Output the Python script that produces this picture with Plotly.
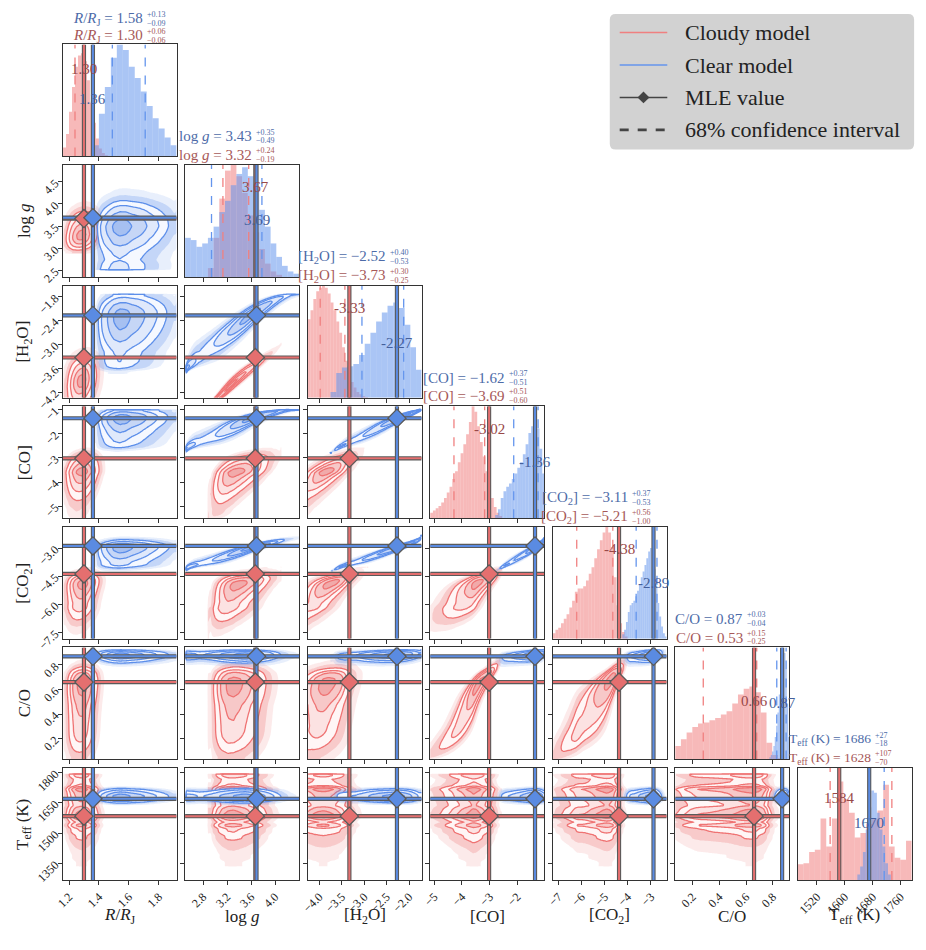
import math
import numpy as np
import plotly.graph_objects as go

# page is offset by the default 8px body margin, so the figure is drawn 8px smaller
PAGE_OFF = 8
WF, HF = 918, 934
FONT = "Liberation Serif"

# ---------------- values ----------------
PARAM_KEYS = ["R", "logg", "H2O", "CO", "CO2", "C/O", "Teff"]
DECIMALS = [2, 2, 2, 2, 2, 2, 0]

MLE_CLOUDY = [1.30, 3.67, -3.33, -3.02, -4.38, 0.66, 1584]
MLE_CLEAR = [1.36, 3.69, -2.27, -1.36, -2.89, 0.87, 1670]
MEDIAN_CLOUDY = [1.30, 3.32, -3.73, -3.69, -5.21, 0.53, 1628]
UPPER_CLOUDY = [0.06, 0.24, 0.30, 0.51, 0.56, 0.15, 107]
LOWER_CLOUDY = [0.06, 0.19, 0.25, 0.60, 1.00, 0.25, 70]
MEDIAN_CLEAR = [1.58, 3.43, -2.52, -1.62, -3.11, 0.87, 1686]
UPPER_CLEAR = [0.13, 0.35, 0.40, 0.37, 0.37, 0.03, 27]
LOWER_CLEAR = [0.09, 0.49, 0.53, 0.51, 0.53, 0.04, 18]

# histogram bins: [first edge, bin width] and relative bar heights
# (bins lying outside a histogram's x-range are the faint tails seen in the 2-D panels)
CLOUDY_R_BIN = [1.16, 0.02]
CLOUDY_R_HIST = [0.08, 0.2, 0.4, 0.62, 0.8, 0.9, 0.92, 0.85, 0.68, 0.48, 0.3, 0.16, 0.07, 0.03, 0.01]
CLEAR_R_BIN = [1.36, 0.04]
CLEAR_R_HIST = [0.1, 0.38, 0.62, 0.88, 1.0, 0.95, 0.8, 0.7, 0.58, 0.45, 0.34, 0.25, 0.17, 0.1]

CLOUDY_LOGG_BIN = [2.88, 0.095]
CLOUDY_LOGG_HIST = [0.08, 0.35, 0.7, 0.95, 1.0, 0.9, 0.75, 0.55, 0.4, 0.25, 0.12, 0.05, 0.02]
CLEAR_LOGG_BIN = [2.5, 0.095]
CLEAR_LOGG_HIST = [0.35, 0.33, 0.27, 0.3, 0.35, 0.45, 0.58, 0.68, 0.82, 0.92, 0.98, 0.9, 0.78, 0.6,
                   0.45, 0.3, 0.18, 0.1, 0.05, 0.03, 0.02, 0.012, 0.006]

CLOUDY_H2O_BIN = [-4.452, 0.064]
CLOUDY_H2O_HIST = [0.35, 0.5, 0.62, 0.7, 0.78, 0.88, 0.95, 0.98, 1.0, 0.98, 0.93, 0.85, 0.78, 0.68, 0.58,
                   0.45, 0.33, 0.22, 0.14, 0.09, 0.05, 0.03, 0.015, 0.005]
CLEAR_H2O_BIN = [-3.75, 0.127]
CLEAR_H2O_HIST = [0.05, 0.22, 0.27, 0.28, 0.3, 0.38, 0.48, 0.58, 0.68, 0.76, 0.82, 0.85, 0.8, 0.65, 0.45, 0.25]

CLOUDY_CO_BIN = [-5.55, 0.1]
CLOUDY_CO_HIST = [0.02, 0.03, 0.04, 0.045, 0.05, 0.07, 0.09, 0.11, 0.14, 0.18, 0.23, 0.28, 0.35, 0.42,
                  0.5, 0.58, 0.66, 0.75, 0.86, 1.0, 0.95, 0.82, 0.68, 0.55, 0.42, 0.3, 0.18, 0.1, 0.05, 0.02]
CLEAR_CO_BIN = [-2.8, 0.1]
CLEAR_CO_HIST = [0.03, 0.08, 0.18, 0.24, 0.28, 0.31, 0.35, 0.4, 0.45, 0.5, 0.57, 0.66, 0.76, 0.82,
                 0.87, 0.8, 0.62, 0.4]

CLOUDY_CO2_BIN = [-7.85, 0.12]
CLOUDY_CO2_HIST = [0.01, 0.015, 0.02, 0.03, 0.04, 0.05, 0.08, 0.1, 0.14, 0.18, 0.22, 0.28, 0.34, 0.42,
                   0.45, 0.45, 0.47, 0.52, 0.58, 0.64, 0.72, 0.8, 0.88, 0.95, 1.0, 0.95, 0.82, 0.55, 0.3,
                   0.14, 0.06, 0.02]
CLEAR_CO2_BIN = [-4.24, 0.08]
CLEAR_CO2_HIST = [0.04, 0.08, 0.15, 0.24, 0.3, 0.32, 0.34, 0.38, 0.43, 0.49, 0.55, 0.6, 0.66, 0.72,
                  0.78, 0.81, 0.75, 0.62, 0.47, 0.32, 0.2, 0.11, 0.05, 0.02]

CLOUDY_CTOO_BIN = [0.0273, 0.0427]
CLOUDY_CTOO_HIST = [0.08, 0.12, 0.18, 0.24, 0.29, 0.32, 0.33, 0.35, 0.37, 0.4, 0.43, 0.5, 0.58, 0.63,
                    0.65, 0.6, 0.42, 0.15, 0.04, 0.01]
CLEAR_CTOO_BIN = [0.775, 0.01]
CLEAR_CTOO_HIST = [0.02, 0.04, 0.07, 0.12, 0.2, 0.3, 0.42, 0.58, 0.75, 0.9, 1.0, 0.95, 0.8, 0.5, 0.2]

CLOUDY_TEFF_BIN = [1334.2, 16.35]
CLOUDY_TEFF_HIST = [0.02, 0.02, 0.03, 0.03, 0.04, 0.05, 0.07, 0.1,
                    0.14, 0.15, 0.25, 0.27, 0.55, 0.3, 0.55, 0.88, 0.72, 0.6, 0.38, 0.42, 0.5, 0.55,
                    0.62, 0.85, 0.3, 0.2, 0.18, 0.35]
CLEAR_TEFF_BIN = [1636, 8]
CLEAR_TEFF_HIST = [0.05, 0.12, 0.25, 0.45, 0.65, 0.8, 0.78, 0.6, 0.45, 0.3, 0.15, 0.05]

# pairwise correlation (order as PARAM_KEYS)
CLOUDY_CORR = [
    [1.0, 0.15, 0.2, 0.2, 0.2, 0.1, 0.0],
    [0.15, 1.0, 0.97, 0.6, 0.5, 0.1, 0.0],
    [0.2, 0.97, 1.0, 0.75, 0.7, 0.3, 0.0],
    [0.2, 0.6, 0.75, 1.0, 0.75, 0.92, 0.0],
    [0.2, 0.5, 0.7, 0.75, 1.0, 0.85, 0.0],
    [0.1, 0.1, 0.3, 0.92, 0.85, 1.0, 0.0],
    [0.0, 0.0, 0.0, 0.0, 0.0, 0.0, 1.0],
]
CLEAR_CORR = [
    [1.0, 0.1, 0.1, 0.1, 0.1, 0.0, 0.0],
    [0.1, 1.0, 0.95, 0.93, 0.95, 0.0, 0.0],
    [0.1, 0.95, 1.0, 0.97, 0.97, 0.2, 0.0],
    [0.1, 0.93, 0.97, 1.0, 0.97, 0.4, 0.0],
    [0.1, 0.95, 0.97, 0.97, 1.0, 0.3, 0.0],
    [0.0, 0.0, 0.2, 0.4, 0.3, 1.0, 0.0],
    [0.0, 0.0, 0.0, 0.0, 0.0, 0.0, 1.0],
]

# axis ranges and ticks
X_RANGES = [[1.157, 1.92], [2.5, 4.4], [-4.26, -1.72], [-5.15, -1.03], [-7.25, -2.32], [0.07, 0.923], [1465, 1792]]
Y_RANGES = [None, [2.35, 4.88], [-4.34, -1.52], [-5.5, -0.86], [-7.84, -1.87], [0.03, 0.943], [1267, 1823]]
X_TICKS = [[1.2, 1.4, 1.6, 1.8], [2.8, 3.2, 3.6, 4.0], [-4.0, -3.5, -3.0, -2.5, -2.0], [-5, -4, -3, -2],
           [-7, -6, -5, -4, -3], [0.2, 0.4, 0.6, 0.8], [1520, 1600, 1680, 1760]]
X_TICK_TEXT = [["1.2", "1.4", "1.6", "1.8"], ["2.8", "3.2", "3.6", "4.0"],
               ["−4.0", "−3.5", "−3.0", "−2.5", "−2.0"], ["−5", "−4", "−3", "−2"],
               ["−7", "−6", "−5", "−4", "−3"], ["0.2", "0.4", "0.6", "0.8"], ["1520", "1600", "1680", "1760"]]
Y_TICKS = [None, [2.5, 3.0, 3.5, 4.0, 4.5], [-4.2, -3.6, -3.0, -2.4, -1.8], [-5, -4, -3, -2, -1],
           [-7.5, -6.0, -4.5, -3.0], [0.2, 0.4, 0.6, 0.8], [1350, 1500, 1650, 1800]]
Y_TICK_TEXT = [None, ["2.5", "3.0", "3.5", "4.0", "4.5"], ["−4.2", "−3.6", "−3.0", "−2.4", "−1.8"],
               ["−5", "−4", "−3", "−2", "−1"], ["−7.5", "−6.0", "−4.5", "−3.0"],
               ["0.2", "0.4", "0.6", "0.8"], ["1350", "1500", "1650", "1800"]]

AXIS_LABELS = ["<i>R</i>/<i>R</i><sub>J</sub>", "log <i>g</i>", "[H<sub>2</sub>O]", "[CO]",
               "[CO<sub>2</sub>]", "C/O", "T<sub>eff</sub> (K)"]
LEGEND_LABELS = ["Cloudy model", "Clear model", "MLE value", "68% confidence interval"]

# ---------------- layout / style constants (page pixels) ----------------
COL_LEFT = [55 + 123.6 * c for c in range(7)]
ROW_TOP = [43 + 122.7 * r for r in range(7)]
PW, PH = 115, 114
TITLE_RIGHT = [138, 248, 383, 503, 627, 743, 873]
TITLE_SIZE = [15, 15, 15, 15, 15, 15, 13.5]
TITLE_SHIFT = [3, 0, 0, 0, 0, 0, 0]
VAL_TEXT_Y = {"cloudy": [0.78, 0.80, 0.80, 0.80, 0.80, 0.52, 0.73],
              "clear": [0.51, 0.51, 0.49, 0.50, 0.50, 0.50, 0.51]}

MODELS = ["cloudy", "clear"]
HISTS = {
    "cloudy": [(CLOUDY_R_BIN, CLOUDY_R_HIST), (CLOUDY_LOGG_BIN, CLOUDY_LOGG_HIST), (CLOUDY_H2O_BIN, CLOUDY_H2O_HIST),
               (CLOUDY_CO_BIN, CLOUDY_CO_HIST), (CLOUDY_CO2_BIN, CLOUDY_CO2_HIST),
               (CLOUDY_CTOO_BIN, CLOUDY_CTOO_HIST), (CLOUDY_TEFF_BIN, CLOUDY_TEFF_HIST)],
    "clear": [(CLEAR_R_BIN, CLEAR_R_HIST), (CLEAR_LOGG_BIN, CLEAR_LOGG_HIST), (CLEAR_H2O_BIN, CLEAR_H2O_HIST),
              (CLEAR_CO_BIN, CLEAR_CO_HIST), (CLEAR_CO2_BIN, CLEAR_CO2_HIST),
              (CLEAR_CTOO_BIN, CLEAR_CTOO_HIST), (CLEAR_TEFF_BIN, CLEAR_TEFF_HIST)],
}
MLE = {"cloudy": MLE_CLOUDY, "clear": MLE_CLEAR}
MED = {"cloudy": MEDIAN_CLOUDY, "clear": MEDIAN_CLEAR}
UP = {"cloudy": UPPER_CLOUDY, "clear": UPPER_CLEAR}
LO = {"cloudy": LOWER_CLOUDY, "clear": LOWER_CLEAR}
CORR = {"cloudy": CLOUDY_CORR, "clear": CLEAR_CORR}

HIST_COLOR = {"cloudy": "rgba(240,128,128,0.55)", "clear": "rgba(100,149,237,0.55)"}
DASH_COLOR = {"cloudy": "#f08080", "clear": "#6495ed"}
MLE_COLOR = {"cloudy": "#e56f6f", "clear": "#5a8be2"}
CONT_LINE = {"cloudy": "#ef7373", "clear": "#5d8fea"}
TEXT_COLOR = {"cloudy": "#a65858", "clear": "#4d6ba8"}
VAL_COLOR = {"cloudy": "#994848", "clear": "#445f9c"}
FILL_SCALE = {
    "cloudy": [[0, "rgba(240,128,128,0)"], [1 / 6, "rgba(240,128,128,0.17)"], [2 / 6, "rgba(240,128,128,0.30)"],
               [3 / 6, "rgb(255,246,246)"], [4 / 6, "rgb(252,226,226)"], [5 / 6, "rgb(247,200,200)"],
               [1, "rgb(241,170,170)"]],
    "clear": [[0, "rgba(100,149,237,0)"], [1 / 6, "rgba(100,149,237,0.15)"], [2 / 6, "rgba(100,149,237,0.27)"],
              [3 / 6, "rgb(245,248,255)"], [4 / 6, "rgb(224,233,251)"], [5 / 6, "rgb(198,214,246)"],
              [1, "rgb(166,192,241)"]],
}
EDGE = "#5a5a5a"


def PX(xp):
    return (xp - PAGE_OFF) / WF


def PY(yp):
    return 1 - (yp - PAGE_OFF) / HF


# ---------------- density helpers (built from the histograms + correlations) ----------------
ZT = np.linspace(-5, 5, 2001)
PT = 0.5 * (1 + np.array([math.erf(z / math.sqrt(2)) for z in ZT]))


def phi_inv(u):
    return np.interp(u, PT, ZT)


def marginal_table(bin_, hist, lo, hi):
    start, width = bin_
    h = np.asarray(hist, float)
    n = len(h)
    end = start + n * width
    centers = start + width * (np.arange(n) + 0.5)
    xs = np.concatenate([[start], centers, [end]])
    hs = np.concatenate([[h[0]], h, [h[-1]]])
    g = np.linspace(min(lo, start), max(hi, end), 4000)
    f = np.interp(g, xs, hs, left=0.0, right=0.0)
    F = np.cumsum(f)
    F = F / F[-1]
    return g, f, F


TABLES = {}
for m in MODELS:
    TABLES[m] = []
    for p in range(7):
        lo, hi = X_RANGES[p]
        if Y_RANGES[p] is not None:
            lo = min(lo, Y_RANGES[p][0])
            hi = max(hi, Y_RANGES[p][1])
        TABLES[m].append(marginal_table(HISTS[m][p][0], HISTS[m][p][1], lo, hi))


def panel_field(m, pj, pi, n=90):
    xs = np.linspace(X_RANGES[pj][0], X_RANGES[pj][1], n)
    ys = np.linspace(Y_RANGES[pi][0], Y_RANGES[pi][1], n)
    gx, fxg, Fxg = TABLES[m][pj]
    gy, fyg, Fyg = TABLES[m][pi]
    fx = np.interp(xs, gx, fxg)
    fy = np.interp(ys, gy, fyg)
    zx = phi_inv(np.clip(np.interp(xs, gx, Fxg), 1e-5, 1 - 1e-5))
    zy = phi_inv(np.clip(np.interp(ys, gy, Fyg), 1e-5, 1 - 1e-5))
    rho = CORR[m][pi][pj]
    A = zx[None, :]
    B = zy[:, None]
    q = (rho ** 2 * (A ** 2 + B ** 2) - 2 * rho * A * B) / (2 * (1 - rho ** 2))
    d = fy[:, None] * fx[None, :] * np.exp(-q) / np.sqrt(1 - rho ** 2)
    flat = d.ravel()
    order = np.argsort(-flat)
    cum = np.cumsum(flat[order])
    cum = cum / cum[-1]
    p = np.empty_like(flat)
    p[order] = cum
    s = np.sqrt(-2 * np.log(np.clip(1 - p, 1e-12, 1)))
    s[flat <= 0] = 3.45
    s = np.minimum(s, 3.45).reshape(d.shape)
    return xs, ys, (-s).astype(np.float32)


def fmtv(v, d):
    s = f"{abs(v):.{d}f}"
    return ("−" + s) if v < 0 else s


# ---------------- build figure ----------------
traces = []
axes = {}
ann = []
shapes = []

AX_COMMON = dict(ticks="outside", ticklen=4, tickwidth=1, tickcolor="#333", showline=True, mirror=True,
                 linecolor="#333", linewidth=1, showgrid=False, zeroline=False, tickangle=-45,
                 tickfont=dict(family=FONT, size=12, color="#222"), fixedrange=True)


def add_text(text, xp, yp, size, color, xanchor="center", yanchor="middle", angle=0, pad=1):
    ann.append(dict(text=text, x=PX(xp), y=PY(yp), xref="paper", yref="paper", showarrow=False,
                    xanchor=xanchor, yanchor=yanchor, textangle=angle, borderpad=pad,
                    font=dict(family=FONT, size=size, color=color)))


for r in range(7):
    for c in range(r + 1):
        n = r * 7 + c + 1
        xa = "x" if n == 1 else f"x{n}"
        ya = "y" if n == 1 else f"y{n}"
        xkey = "xaxis" if n == 1 else f"xaxis{n}"
        ykey = "yaxis" if n == 1 else f"yaxis{n}"
        x0 = COL_LEFT[c]
        y0 = ROW_TOP[r]
        xdom = [PX(x0), PX(x0 + PW)]
        ydom = [PY(y0 + PH), PY(y0)]
        axes[xkey] = dict(domain=xdom, anchor=ya, range=X_RANGES[c], tickvals=X_TICKS[c],
                          ticktext=X_TICK_TEXT[c], showticklabels=(r == 6), **AX_COMMON)
        if r == c:
            axes[ykey] = dict(domain=ydom, anchor=xa, range=[0, 1], showticklabels=False, ticks="",
                              showline=True, mirror=True, linecolor="#333", linewidth=1,
                              showgrid=False, zeroline=False, fixedrange=True)
            for m in MODELS:
                (start, width), hist = HISTS[m][c]
                centers = [start + width * (k + 0.5) for k in range(len(hist))]
                traces.append(go.Bar(x=centers, y=hist, width=width, xaxis=xa, yaxis=ya,
                                     marker=dict(color=HIST_COLOR[m], line=dict(width=0)), hoverinfo="skip"))
            for m in MODELS:
                lo_v = MED[m][c] - LO[m][c]
                hi_v = MED[m][c] + UP[m][c]
                traces.append(go.Scatter(x=[lo_v, lo_v, None, hi_v, hi_v], y=[0, 1, None, 0, 1], mode="lines",
                                         xaxis=xa, yaxis=ya, hoverinfo="skip",
                                         line=dict(color=DASH_COLOR[m], width=1.3, dash="dash")))
            for m in MODELS:
                v = MLE[m][c]
                traces.append(go.Scatter(x=[v, v], y=[0, 1], mode="lines", xaxis=xa, yaxis=ya, hoverinfo="skip",
                                         line=dict(color=EDGE, width=4.2)))
                traces.append(go.Scatter(x=[v, v], y=[0, 1], mode="lines", xaxis=xa, yaxis=ya, hoverinfo="skip",
                                         line=dict(color=MLE_COLOR[m], width=2.0)))
            for m in MODELS:
                ann.append(dict(text=fmtv(MLE[m][c], DECIMALS[c]).replace("−", "-"), x=MLE[m][c],
                                y=VAL_TEXT_Y[m][c], xref=xa, yref=ya, showarrow=False,
                                font=dict(family=FONT, size=15, color=VAL_COLOR[m])))
        else:
            axes[ykey] = dict(domain=ydom, anchor=xa, range=Y_RANGES[r], tickvals=Y_TICKS[r],
                              ticktext=Y_TICK_TEXT[r], showticklabels=(c == 0), **AX_COMMON)
            for m in MODELS:
                xs, ys, z = panel_field(m, c, r)
                traces.append(go.Contour(x=xs, y=ys, z=z, xaxis=xa, yaxis=ya, showscale=False, hoverinfo="skip",
                                         autocontour=False,
                                         contours=dict(start=-3.0, end=-0.5, size=0.5, coloring="fill",
                                                       showlines=False),
                                         colorscale=FILL_SCALE[m], line=dict(width=0)))
                traces.append(go.Contour(x=xs, y=ys, z=z, xaxis=xa, yaxis=ya, showscale=False, hoverinfo="skip",
                                         autocontour=False,
                                         contours=dict(start=-2.0, end=-0.5, size=0.5, coloring="none"),
                                         line=dict(color=CONT_LINE[m], width=1.3)))
            for m in MODELS:
                vx = MLE[m][c]
                vy = MLE[m][r]
                lx = [vx, vx, None, X_RANGES[c][0], X_RANGES[c][1]]
                ly = [Y_RANGES[r][0], Y_RANGES[r][1], None, vy, vy]
                traces.append(go.Scatter(x=lx, y=ly, mode="lines", xaxis=xa, yaxis=ya, hoverinfo="skip",
                                         line=dict(color=EDGE, width=4.2)))
                traces.append(go.Scatter(x=lx, y=ly, mode="lines", xaxis=xa, yaxis=ya, hoverinfo="skip",
                                         line=dict(color=MLE_COLOR[m], width=2.0)))
            for m in MODELS:
                traces.append(go.Scatter(x=[MLE[m][c]], y=[MLE[m][r]], mode="markers", xaxis=xa, yaxis=ya,
                                         hoverinfo="skip",
                                         marker=dict(symbol="diamond", size=14, color=MLE_COLOR[m],
                                                     line=dict(color=EDGE, width=1.3))))

# titles above the diagonal histograms
for k in range(7):
    d = DECIMALS[k]
    right = TITLE_RIGHT[k]
    for m, yc in (("clear", ROW_TOP[k] - 29 + TITLE_SHIFT[k]), ("cloudy", ROW_TOP[k] - 10 + TITLE_SHIFT[k] / 2)):
        add_text(f"{AXIS_LABELS[k]} = {fmtv(MED[m][k], d)}", right, yc, TITLE_SIZE[k], TEXT_COLOR[m],
                 xanchor="right")
        add_text("+" + fmtv(UP[m][k], d), right + 1, yc - 4.5, 8, TEXT_COLOR[m], xanchor="left", pad=0)
        add_text("−" + fmtv(LO[m][k], d), right + 1, yc + 4.5, 8, TEXT_COLOR[m], xanchor="left", pad=0)

# axis titles
for c in range(7):
    add_text(AXIS_LABELS[c], COL_LEFT[c] + PW / 2, 930, 17, "#222")
for r in range(1, 7):
    add_text(AXIS_LABELS[r], 16, ROW_TOP[r] + PH / 2, 17, "#222", angle=-90)

# legend (drawn by hand)
lx0, lx1, ly0, ly1, rad = 607, 914, 12, 150, 6


def P(xp, yp):
    return f"{PX(xp):.5f},{PY(yp):.5f}"


path = (f"M {P(lx0 + rad, ly0)} L {P(lx1 - rad, ly0)} Q {P(lx1, ly0)} {P(lx1, ly0 + rad)} "
        f"L {P(lx1, ly1 - rad)} Q {P(lx1, ly1)} {P(lx1 - rad, ly1)} L {P(lx0 + rad, ly1)} "
        f"Q {P(lx0, ly1)} {P(lx0, ly1 - rad)} L {P(lx0, ly0 + rad)} Q {P(lx0, ly0)} {P(lx0 + rad, ly0)} Z")
shapes.append(dict(type="path", path=path, xref="paper", yref="paper", fillcolor="#d2d2d2",
                   line=dict(width=0), layer="above"))
leg_y = [31, 64, 97, 130]
leg_style = [dict(color=DASH_COLOR["cloudy"], width=1.5), dict(color=DASH_COLOR["clear"], width=1.5),
             dict(color="#444", width=1.5), dict(color="#444", width=2.8, dash="dash")]
for i, lab in enumerate(LEGEND_LABELS):
    yy = leg_y[i]
    shapes.append(dict(type="line", xref="paper", yref="paper", x0=PX(617), x1=PX(665),
                       y0=PY(yy), y1=PY(yy), line=leg_style[i], layer="above"))
    add_text(lab, 681, yy, 22, "#222", xanchor="left")
dm = 6
shapes.append(dict(type="path", xref="paper", yref="paper", fillcolor="#444", line=dict(width=0), layer="above",
                   path=f"M {P(641, 97 - dm)} L {P(641 + dm, 97)} L {P(641, 97 + dm)} L {P(641 - dm, 97)} Z"))

fig = go.Figure(data=traces)
fig.update_layout(**axes)
fig.update_layout(annotations=ann, shapes=shapes, width=WF, height=HF, margin=dict(l=0, r=0, t=0, b=0),
                  paper_bgcolor="white", plot_bgcolor="white", showlegend=False, barmode="overlay",
                  font=dict(family=FONT))
fig.write_html("out.html")
